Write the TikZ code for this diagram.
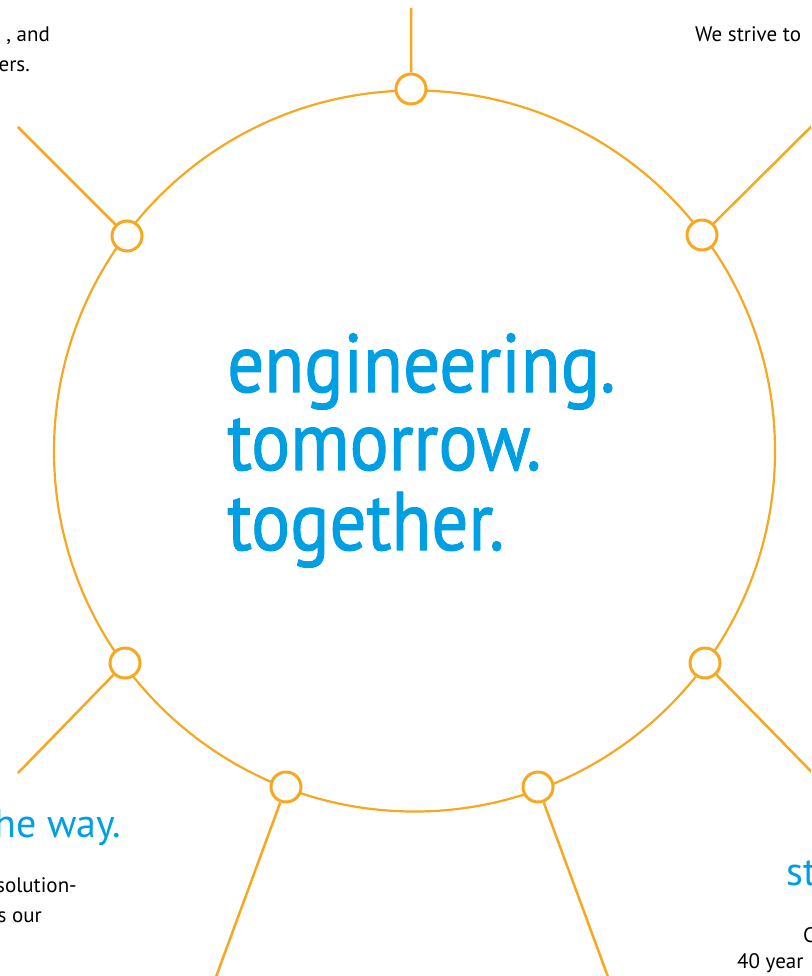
\documentclass[tikz,border=0pt]{standalone}
\usepackage{fontspec}
\setmainfont{PT Sans}
\newfontfamily\slimfont[FakeStretch=0.88,FakeBold=1.2]{PT Sans}
\usetikzlibrary{positioning}
\definecolor{gold}{RGB}{246,168,33}
\definecolor{sky}{RGB}{0,159,227}

\begin{document}
\begin{tikzpicture}[x=1pt,y=-1pt,
        hub/.style={circle,draw=gold,line width=2.2pt,minimum size=721pt,inner sep=0pt},
        knot/.style={circle,draw=gold,fill=white,line width=3pt,minimum size=30pt,inner sep=0pt},
        spoke/.style={draw=gold,line width=2.5pt},
        slogan/.style={text=sky,font=\slimfont\fontsize{83}{83}\selectfont,inner sep=0pt,anchor=base west},
        lead/.style={text=sky,font=\fontsize{40}{40}\selectfont,inner sep=0pt},
        body/.style={font=\fontsize{21}{21}\selectfont,inner sep=0pt}]
    \useasboundingbox (0,0) rectangle (811,976);
    \clip (0,0) rectangle (811,976);

    % ring and its knots
    \node[hub] (ring) at (414.5,451) {};
    \node[knot] (ktop) at (411,89) {};
    \node[knot] (kul) at (127,236) {};
    \node[knot] (kur) at (702,235) {};
    \node[knot] (kll) at (125,663) {};
    \node[knot] (klr) at (705,663) {};
    \node[knot] (kbl) at (286,787) {};
    \node[knot] (kbr) at (538,787) {};

    % free ends of the spokes
    \coordinate (etop) at (411,8);
    \coordinate (eul) at (18,127);
    \coordinate (eur) at (840,98);
    \coordinate (ell) at (18,773);
    \coordinate (elr) at (840,801);
    \coordinate (ebl) at (213,985);
    \coordinate (ebr) at (611,985);

    \path[spoke]
    (ktop) -- (etop)
    (kul) -- (eul)
    (kur) -- (eur)
    (kll) -- (ell)
    (klr) -- (elr)
    (kbl) -- (ebl)
    (kbr) -- (ebr)
    ;

    % slogan
    \node[slogan] (eng) at (227,392) {engineering.};
    \node[slogan] (tom) at (227,470) {tomorrow.};
    \node[slogan] (tog) at (227,550) {together.};

    % cut-off texts at the edges
    \node[body,anchor=base east] (tl1) at (50,41.5) {, and};
    \node[body,anchor=base east] (tl2) at (30,72) {ers.};
    \node[body,anchor=base west] (tr1) at (695,42) {We strive to};
    \node[lead,anchor=base east] (bl0) at (121,837) {he way.};
    \node[body,anchor=base east] (bl1) at (77,892) {solution-};
    \node[body,anchor=base east] (bl2) at (42,922) {s our};
    \node[lead,anchor=base west] (br0) at (786,885) {st};
    \node[body,anchor=base west] (br1) at (803,942) {C};
    \node[body,anchor=base west] (br2) at (737,968) {40 year};
\end{tikzpicture}
\end{document}
